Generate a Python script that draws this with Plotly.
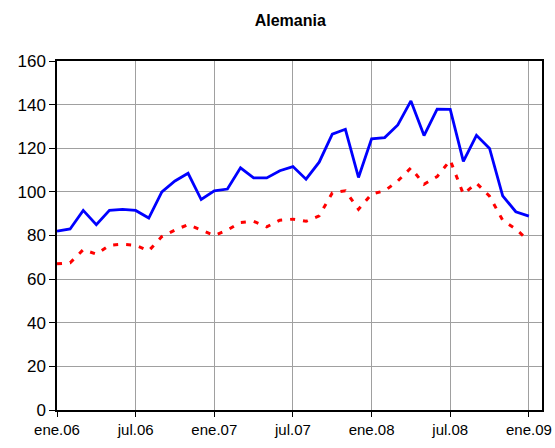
import plotly.graph_objects as go

# monthly data, ene.06 .. ene.09
meses = ["ene.06", "feb.06", "mar.06", "abr.06", "may.06", "jun.06", "jul.06", "ago.06", "sep.06", "oct.06", "nov.06", "dic.06",
         "ene.07", "feb.07", "mar.07", "abr.07", "may.07", "jun.07", "jul.07", "ago.07", "sep.07", "oct.07", "nov.07", "dic.07",
         "ene.08", "feb.08", "mar.08", "abr.08", "may.08", "jun.08", "jul.08", "ago.08", "sep.08", "oct.08", "nov.08", "dic.08",
         "ene.09"]

serie_azul = [82, 83, 91.5, 85, 91.5, 92, 91.5, 88, 100, 105, 108.5, 96.5,
              100.5, 101.3, 111, 106.4, 106.4, 109.7, 111.6, 105.8, 113.6, 126.5, 128.7, 106.6,
              124.3, 124.9, 130.7, 141.7, 125.8, 137.9, 137.8, 114, 125.9, 119.9, 98.2, 90.9,
              88.9]

serie_roja = [67, 67.5, 73.5, 71.5, 75.5, 76, 75.5, 73, 79.5, 82.5, 85, 82.5,
              80, 82.5, 86, 86.5, 84, 87, 87.5, 86.5, 89, 99.5, 100.5, 92,
              99, 100.5, 105, 111, 103.5, 107, 114.5, 99, 104, 98, 87, 83,
              77.5]

tick_labels = ["ene.06", "jul.06", "ene.07", "jul.07", "ene.08", "jul.08", "ene.09"]

x_idx = list(range(len(meses)))
tick_pos = [meses.index(t) for t in tick_labels]

fig = go.Figure()

fig.add_trace(go.Scatter(x=x_idx, y=serie_roja, mode="lines",
                         line=dict(color="#ff0000", width=3, dash="5px,8px"),
                         hovertext=meses))
fig.add_trace(go.Scatter(x=x_idx, y=serie_azul, mode="lines",
                         line=dict(color="#0000ff", width=2.8),
                         hovertext=meses))

fig.update_layout(
    width=555, height=448,
    margin=dict(l=57, r=13, t=61, b=38),
    paper_bgcolor="white", plot_bgcolor="white",
    showlegend=False,
    font=dict(family="Liberation Sans, Arial", color="black"),
    title=dict(text="<b>Alemania</b>", x=0.523, xanchor="center", y=0.955, yanchor="middle",
               font=dict(size=16, color="black")),
    xaxis=dict(range=[0, 37], tickvals=tick_pos, ticktext=tick_labels,
               showgrid=True, gridcolor="#a0a0a0", gridwidth=1,
               showline=True, linecolor="black", linewidth=1.5, mirror=True,
               ticks="outside", ticklen=5, tickcolor="black",
               tickfont=dict(size=15), zeroline=False, automargin=False),
    yaxis=dict(range=[0, 160], tickvals=list(range(0, 161, 20)),
               showgrid=True, gridcolor="#a0a0a0", gridwidth=1,
               showline=True, linecolor="black", linewidth=1.5, mirror=True,
               ticks="outside", ticklen=6, tickcolor="black",
               tickfont=dict(size=17), zeroline=False, automargin=False),
)

# page has a default body margin; drop it so the figure sits at (0, 0)
fig.write_html("out.html", config={"displayModeBar": False},
               post_script="document.body.style.margin='0';")
